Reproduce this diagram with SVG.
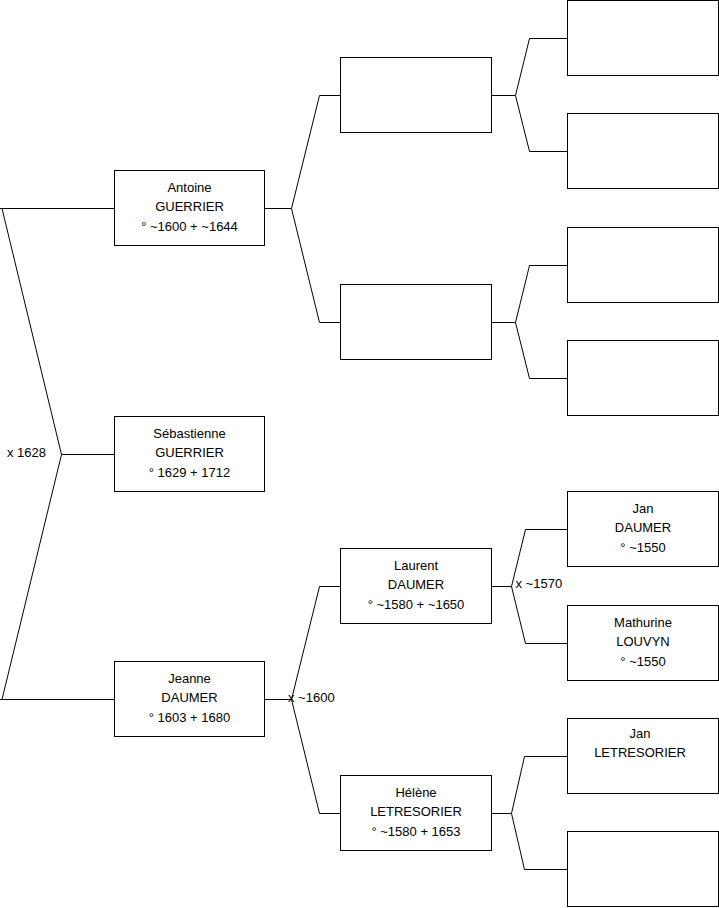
<svg xmlns="http://www.w3.org/2000/svg" width="719" height="908" viewBox="0 0 719 908">
<style>
.box{fill:#fff;stroke:#000;stroke-width:1}
.conn{fill:none;stroke:#000;stroke-width:1}
text{font-family:"Liberation Sans",Arial,sans-serif;font-size:13px;fill:#000}
.c{text-anchor:middle}
</style>
<rect x="0" y="0" width="719" height="908" fill="#fff"/>
<g id="connectors" class="conn">
<path d="M0,208.5 H114.5 M2,208.5 L61.5,454.5 L2,699.5 M0,699.5 H114.5 M61.5,454.5 H114.5"/>
<path d="M265,208.5 H291.5 M340.5,95.5 H319.5 L291.5,208.5 L319.5,322.5 H340.5"/>
<path d="M491.5,95.5 H515.5 M567.5,38.5 H529.5 L515.5,95.5 L529.5,151.5 H567.5"/>
<path d="M491.5,322.5 H515.5 M567.5,265.5 H529.5 L515.5,322.5 L529.5,378.5 H567.5"/>
<path d="M265,699.5 H291.5 M340.5,586.5 H319.5 L291.5,699.5 L319.5,813.5 H340.5"/>
<path d="M491.5,586.5 H511.5 M567.5,529.5 H525.5 L511.5,586.5 L525.5,643.5 H567.5"/>
<path d="M491.5,813.5 H511.5 M567.5,756.5 H524.5 L511.5,813.5 L524.5,869.5 H567.5"/>
</g>
<g id="labels">
<text x="7" y="457">x 1628</text>
<text x="288" y="702">x ~1600</text>
<text x="515.5" y="588">x ~1570</text>
</g>
<g id="antoine"><rect class="box" x="114.5" y="170.5" width="150" height="75"/>
<text class="c" x="189.5" y="191.5">Antoine</text><text class="c" x="189.5" y="211">GUERRIER</text><text class="c" x="189.5" y="230.5">° ~1600 + ~1644</text></g>
<g id="sebastienne"><rect class="box" x="114.5" y="416.5" width="150" height="75"/>
<text class="c" x="189.5" y="437.5">Sébastienne</text><text class="c" x="189.5" y="457">GUERRIER</text><text class="c" x="189.5" y="476.5">° 1629 + 1712</text></g>
<g id="jeanne"><rect class="box" x="114.5" y="661.5" width="150" height="75"/>
<text class="c" x="189.5" y="682.5">Jeanne</text><text class="c" x="189.5" y="702">DAUMER</text><text class="c" x="189.5" y="721.5">° 1603 + 1680</text></g>
<g id="p1"><rect class="box" x="340.5" y="57.5" width="151" height="75"/></g>
<g id="p2"><rect class="box" x="340.5" y="284.5" width="151" height="75"/></g>
<g id="laurent"><rect class="box" x="340.5" y="548.5" width="151" height="75"/>
<text class="c" x="416" y="569.5">Laurent</text><text class="c" x="416" y="589">DAUMER</text><text class="c" x="416" y="608.5">° ~1580 + ~1650</text></g>
<g id="helene"><rect class="box" x="340.5" y="775.5" width="151" height="75"/>
<text class="c" x="416" y="796.5">Hélène</text><text class="c" x="416" y="816">LETRESORIER</text><text class="c" x="416" y="835.5">° ~1580 + 1653</text></g>
<g id="g1"><rect class="box" x="567.5" y="0.5" width="151" height="75"/></g>
<g id="g2"><rect class="box" x="567.5" y="113.5" width="151" height="75"/></g>
<g id="g3"><rect class="box" x="567.5" y="227.5" width="151" height="75"/></g>
<g id="g4"><rect class="box" x="567.5" y="340.5" width="151" height="75"/></g>
<g id="jan-daumer"><rect class="box" x="567.5" y="491.5" width="151" height="75"/>
<text class="c" x="643" y="512.5">Jan</text><text class="c" x="643" y="532">DAUMER</text><text class="c" x="643" y="551.5">° ~1550</text></g>
<g id="mathurine"><rect class="box" x="567.5" y="605.5" width="151" height="75"/>
<text class="c" x="643" y="626.5">Mathurine</text><text class="c" x="643" y="646">LOUVYN</text><text class="c" x="643" y="665.5">° ~1550</text></g>
<g id="jan-letresorier"><rect class="box" x="567.5" y="718.5" width="151" height="75"/>
<text class="c" x="640" y="737.5">Jan</text><text class="c" x="640" y="757">LETRESORIER</text></g>
<g id="g8"><rect class="box" x="567.5" y="831.5" width="151" height="75"/></g>
</svg>
